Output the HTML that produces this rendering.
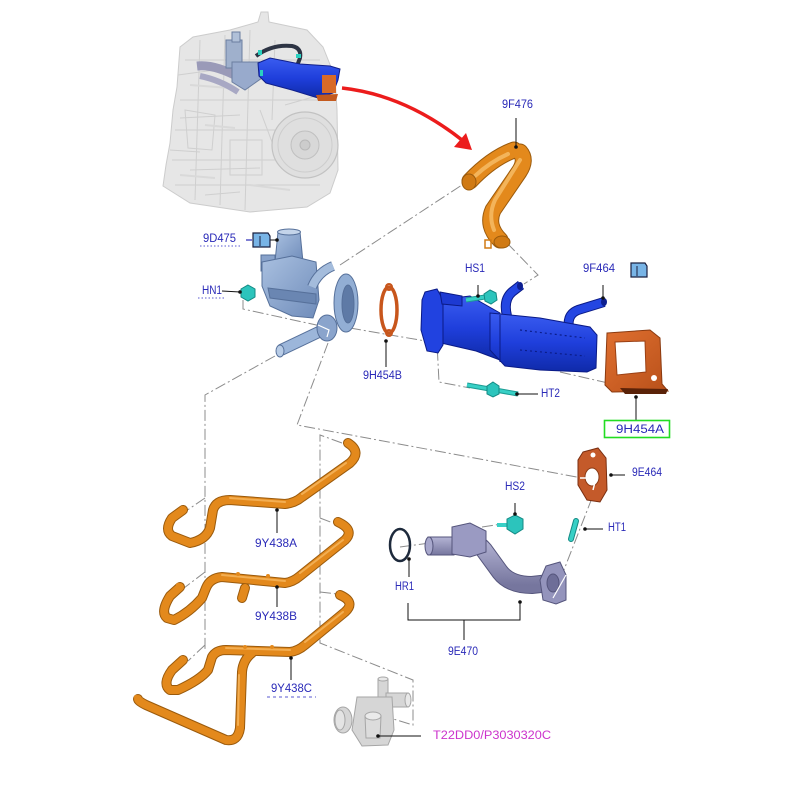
<!DOCTYPE html>
<html><head><meta charset="utf-8"><style>
html,body{margin:0;padding:0;background:#fff;}
svg{display:block}
text{font-family:"Liberation Sans",Arial,sans-serif;font-size:11.5px;}
</style></head><body>
<svg width="800" height="800" viewBox="0 0 800 800" xmlns="http://www.w3.org/2000/svg">
<defs>
<linearGradient id="blueG" x1="0" y1="0" x2="0" y2="1">
<stop offset="0" stop-color="#3a5cf0"/><stop offset="0.5" stop-color="#1f3fdc"/><stop offset="1" stop-color="#0f2aa8"/>
</linearGradient>
<linearGradient id="pumpG" x1="0" y1="0" x2="1" y2="1">
<stop offset="0" stop-color="#a9c0e0"/><stop offset="1" stop-color="#6f8cba"/>
</linearGradient>
<linearGradient id="pipeG" x1="0" y1="0" x2="0" y2="1">
<stop offset="0" stop-color="#b4b4d4"/><stop offset="1" stop-color="#76769e"/>
</linearGradient>
<linearGradient id="gasG" x1="0" y1="0" x2="1" y2="1">
<stop offset="0" stop-color="#e07030"/><stop offset="1" stop-color="#b8501a"/>
</linearGradient>
</defs>

<!-- ================= ENGINE ================= -->
<g>
<path d="M180,47 L193,37 L230,30 L258,22 L261,12 L268,12 L269,22 L307,30 L323,47 L335,77 L337,110 L338,170 L330,193 L307,207 L250,212 L190,203 L163,186 L166,165 L170,143 L173,110 L177,87 Z" fill="#e6e6e6" stroke="#cccccc"/>
<g stroke="#cfcfcf" fill="none" stroke-width="1">
<path d="M185,60 L320,60 M180,100 L330,100 M175,130 L290,130 M172,160 L280,160 M175,185 L320,185"/>
<path d="M200,40 L195,200 M225,35 L220,205 M250,30 L245,210 M275,40 L272,120"/>
<path d="M185,110 L215,115 L212,150 L188,148 Z M230,140 L262,140 L262,175 L230,175 Z"/>
<path d="M178,75 L215,70 M180,118 L240,115 M190,170 L260,168 M205,195 L240,192 M260,110 L275,150 M285,105 L320,95 M170,150 L200,152"/>
</g>
<g stroke="#d9d9d9" fill="none" stroke-width="2">
<path d="M190,85 L230,88 M205,125 L235,128 M180,175 L215,178 M250,185 L290,190"/>
</g>
<circle cx="305" cy="145" r="33" fill="#dfdfdf" stroke="#c2c2c2" stroke-width="1.2"/>
<circle cx="305" cy="145" r="27" fill="none" stroke="#cdcdcd"/>
<circle cx="305" cy="145" r="14" fill="#d8d8d8" stroke="#c0c0c0"/>
<circle cx="305" cy="145" r="5" fill="#cccccc" stroke="#b8b8b8"/>
<!-- grey valve & pipe -->
<path d="M197,66 Q215,64 240,78" stroke="#9a9ab8" stroke-width="9" fill="none"/>
<path d="M200,76 Q220,80 238,92" stroke="#a8a8c4" stroke-width="6" fill="none"/>
<rect x="226" y="40" width="16" height="28" fill="#9fb0cc" stroke="#6b7ea0"/>
<rect x="232" y="32" width="8" height="10" fill="#b0c0d8" stroke="#6b7ea0"/>
<path d="M232,62 L262,62 L262,78 L245,90 L232,82 Z" fill="#98aacc" stroke="#6b7ea0"/>
<!-- dark pipe -->
<path d="M256,56 Q272,44 292,46 Q302,48 300,58 L297,66" stroke="#2d3444" stroke-width="4" fill="none"/>
<rect x="258" y="50" width="4" height="5" fill="#2ad0c0"/>
<rect x="296" y="54" width="5" height="4" fill="#2ad0c0"/>
<!-- blue cooler in engine -->
<path d="M258,63 L270,58 L300,64 L330,66 L340,69 L338,80 L333,93 L318,98 L292,90 L266,83 L259,76 Z" fill="url(#blueG)" stroke="#101f8a"/>
<rect x="322" y="75" width="14" height="18" fill="#d86a28"/>
<path d="M316,95 L338,94 L336,101 L318,101 Z" fill="#c45a1e"/>
<rect x="260" y="70" width="3" height="6" fill="#2ad0c0"/>
</g>

<!-- red arrow -->
<path d="M342,88 Q405,95 462,140" stroke="#ec1c1c" stroke-width="3.5" fill="none"/>
<polygon points="472,150 454,147 466,133" fill="#ec1c1c"/>

<!-- ================= DASH-DOT LINES ================= -->
<g stroke="#8c8c8c" stroke-width="1" fill="none" stroke-dasharray="11,3,2,3">
<path d="M340,265 L468,181"/>
<path d="M507,243 L538,275 L524,284"/>
<path d="M243,300 L243,309 L330,328"/>
<path d="M350,328 L437,343 L439,382 L470,388"/>
<path d="M560,372 L608,383"/>
<path d="M275,356 L205,395 L205,650"/>
<path d="M205,498 L186,511 M205,572 L184,588 M205,645 L188,661"/>
<path d="M328,343 L297,425 L582,478"/>
<path d="M342,443 L320,435 L320,643 L413,680 L413,725 L390,718"/>
<path d="M320,518 L333,523 M320,592 L337,594"/>
<path d="M400,547 L430,543"/>
<path d="M482,527 L502,524"/>
<path d="M592,498 L553,598"/>
</g>

<!-- ================= 9F476 pipe ================= -->
<g fill="none" stroke-linecap="round">
<path d="M470,181 Q492,158 514,150" stroke="#9a5a0c" stroke-width="17"/>
<path d="M520,152 Q527,160 519,172 L493,210 Q486,226 500,240" stroke="#9a5a0c" stroke-width="17"/>
<path d="M470,181 Q492,158 514,150" stroke="#e3891c" stroke-width="15"/>
<path d="M520,152 Q527,160 519,172 L493,210 Q486,226 500,240" stroke="#e3891c" stroke-width="15"/>
<path d="M520,160 L495,200 Q488,215 494,230" stroke="#f3b45a" stroke-width="4"/>
<path d="M475,176 Q490,162 508,154" stroke="#f3b45a" stroke-width="4"/>
</g>
<ellipse cx="469" cy="182" rx="7" ry="8" fill="#d07a14" stroke="#9a5a0c"/>
<ellipse cx="502" cy="242" rx="8" ry="6" fill="#d07a14" stroke="#9a5a0c"/>
<path d="M485,240 L491,240 L491,248 L485,248 Z" fill="none" stroke="#d07a14" stroke-width="1.5"/>

<!-- ================= PUMP / EGR VALVE ================= -->
<g stroke="#56709a" stroke-width="1">
<path d="M275,262 L278,232 L300,232 L303,262 Z" fill="url(#pumpG)"/>
<ellipse cx="289" cy="232" rx="11.5" ry="3" fill="#c4d4ea"/>
<rect x="261" y="255" width="14" height="16" fill="#88a2ca"/>
<path d="M262,262 L292,256 L316,262 L319,300 L313,318 L292,316 L270,306 L262,286 Z" fill="url(#pumpG)"/>
<path d="M268,288 L316,294 L316,304 L270,298 Z" fill="#6a86b2"/>
<path d="M312,287 Q318,272 333,266" stroke="#56709a" stroke-width="10" fill="none"/>
<path d="M312,287 Q318,272 333,266" stroke="#a4bcdc" stroke-width="8" fill="none" stroke-linecap="butt"/>
<path d="M323,330 L281,350" stroke="#56709a" stroke-width="12" fill="none"/>
<path d="M323,330 L281,350" stroke="#9cb6da" stroke-width="10" fill="none"/>
<ellipse cx="280" cy="351" rx="4" ry="6" fill="#b8cce6"/>
<ellipse cx="327" cy="328" rx="10" ry="13" fill="#8aa4cc"/>
<ellipse cx="346" cy="303" rx="12" ry="29" fill="#92aed4"/>
<ellipse cx="348" cy="304" rx="6" ry="19" fill="#5e7aa6"/>
</g>
<path d="M318,325 L329,330 L327,337" stroke="#fff" stroke-width="1.2" fill="none"/>

<!-- 9H454B gasket -->
<ellipse cx="389" cy="310" rx="8" ry="23" fill="none" stroke="#c8561c" stroke-width="3.5"/>
<circle cx="389" cy="287" r="3" fill="none" stroke="#c8561c" stroke-width="2"/>
<circle cx="389" cy="333" r="3" fill="none" stroke="#c8561c" stroke-width="2"/>

<!-- HN1 nut -->
<polygon points="248,285 255,289 255,297 248,301 241,297 241,289" fill="#2cc4bc" stroke="#148a84"/>

<!-- ================= COOLER ================= -->
<g stroke="#0a1a86" stroke-width="1">
<path d="M507,316 Q503,300 512,292 L521,285" stroke="#0a1a86" stroke-width="10" fill="none"/>
<path d="M507,316 Q503,300 512,292 L521,285" stroke="#2446e2" stroke-width="8" fill="none"/>
<path d="M570,332 Q565,315 578,310 L604,302" stroke="#0a1a86" stroke-width="10" fill="none"/>
<path d="M570,332 Q565,315 578,310 L604,302" stroke="#2446e2" stroke-width="8" fill="none"/>
<path d="M437,300 L470,296 L500,313 L500,360 L476,351 L441,343 Z" fill="url(#blueG)"/>
<path d="M490,313 L540,318 L590,327 L597,335 L596,368 L587,372 L540,370 L505,366 L490,350 Z" fill="url(#blueG)"/>
<path d="M500,315 L500,362" stroke="#0a1a86"/>
<path d="M425,292 L437,289 L443,300 L443,345 L438,353 L427,351 L421,330 L422,300 Z" fill="#2142e0"/>
<path d="M440,292 L462,296 L462,306 L442,304 Z" fill="#1d3ad2"/>
</g>
<g stroke="#0b1d8a" stroke-dasharray="2,3" stroke-width="1.2">
<path d="M520,330 L585,338 M520,350 L585,356"/>
</g>
<ellipse cx="520" cy="286" rx="3" ry="4" fill="#0d1f90"/>
<ellipse cx="604" cy="302" rx="3" ry="4" fill="#0d1f90"/>

<!-- HS1 bolt -->
<path d="M466,300 L485,297" stroke="#1c9c94" stroke-width="5"/>
<path d="M466,300 L485,297" stroke="#38d0c6" stroke-width="3"/>
<polygon points="490,290 496,293 497,300 491,304 485,301 484,294" fill="#2cc4bc" stroke="#148a84"/>
<!-- HT2 bolt -->
<path d="M467,385 L518,394" stroke="#1c9c94" stroke-width="5"/>
<path d="M467,385 L518,394" stroke="#38d0c6" stroke-width="3"/>
<polygon points="493,382 499,386 499,394 493,397 487,394 487,386" fill="#2cc4bc" stroke="#148a84"/>

<!-- 9H454A gasket -->
<path d="M607,333 L650,330 L660,338 L662,384 L668,391 L612,392 L605,385 Z" fill="url(#gasG)" stroke="#8a3a10"/>
<path d="M615,342 L645,341 L646,372 L617,375 Z" fill="#fff" stroke="#9a4014"/>
<circle cx="654" cy="378" r="3" fill="#fff"/>
<path d="M620,388 L668,389 L666,394 L625,394 Z" fill="#5a2208"/>

<!-- ================= LOWER HOSES ================= -->
<g fill="none" stroke-linecap="round" stroke-linejoin="round">
<g stroke="#9a5a0c" stroke-width="10">
<path d="M183,510 L172,518 Q164,530 172,536 L190,543 Q206,540 210,528 L213,510 Q216,500 230,500 L285,504 Q295,503 302,497 L350,463 Q362,452 348,443"/>
<path d="M180,587 L170,596 Q160,612 167,618 L174,620 Q190,612 202,598 L206,588 Q210,578 222,577 L285,583 Q293,582 300,576 L345,540 Q355,530 338,522"/>
<path d="M245,588 L242,598"/>
<path d="M183,660 L172,670 Q162,684 170,690 L178,690 Q200,680 208,670 L212,657 Q216,650 226,650 L290,652 Q298,651 305,645 L345,612 Q356,602 340,595"/>
<path d="M252,653 Q243,660 242,672 L240,728 Q238,742 226,740 L146,705 Q138,701 138,699"/>
</g>
<g stroke="#e3891c" stroke-width="8">
<path d="M183,510 L172,518 Q164,530 172,536 L190,543 Q206,540 210,528 L213,510 Q216,500 230,500 L285,504 Q295,503 302,497 L350,463 Q362,452 348,443"/>
<path d="M180,587 L170,596 Q160,612 167,618 L174,620 Q190,612 202,598 L206,588 Q210,578 222,577 L285,583 Q293,582 300,576 L345,540 Q355,530 338,522"/>
<path d="M245,588 L242,598"/>
<path d="M183,660 L172,670 Q162,684 170,690 L178,690 Q200,680 208,670 L212,657 Q216,650 226,650 L290,652 Q298,651 305,645 L345,612 Q356,602 340,595"/>
<path d="M252,653 Q243,660 242,672 L240,728 Q238,742 226,740 L146,705 Q138,701 138,699"/>
</g>
<g stroke="#f6b860" stroke-width="2" opacity="0.8">
<path d="M230,498 L285,502 M302,494 L346,463"/>
<path d="M222,575 L285,581 M300,573 L343,540"/>
<path d="M226,648 L290,650 M305,642 L343,612 M239,675 L238,725"/>
</g>
</g>
<!-- small tabs -->
<g fill="#e3891c">
<circle cx="182" cy="508" r="2"/><circle cx="178" cy="585" r="2"/><circle cx="182" cy="658" r="2"/>
<circle cx="348" cy="441" r="2"/><circle cx="337" cy="520" r="2"/><circle cx="339" cy="593" r="2"/>
<circle cx="238" cy="574" r="2"/><circle cx="268" cy="576" r="2"/><circle cx="245" cy="647" r="2"/><circle cx="272" cy="647" r="2"/>
<circle cx="136" cy="697" r="2"/>
</g>

<!-- ================= 9E470 etc ================= -->
<ellipse cx="400" cy="545" rx="10" ry="16" fill="none" stroke="#1e2a3c" stroke-width="2.5"/>
<g stroke="#55557c" stroke-width="1">
<path d="M455,540 Q472,536 484,550 L500,572 Q510,585 532,585 L550,583" stroke="#55557c" stroke-width="18" fill="none"/>
<path d="M455,540 Q472,536 484,550 L500,572 Q510,585 532,585 L550,583" stroke="url(#pipeG)" stroke-width="16" fill="none"/>
<rect x="428" y="537" width="26" height="18" fill="url(#pipeG)"/>
<ellipse cx="429" cy="546" rx="4" ry="9" fill="#a8a8cc"/>
<path d="M452,527 L470,523 L486,531 L486,552 L470,557 L452,554 Z" fill="#9a9ac2"/>
<path d="M546,566 L560,562 L566,575 L566,600 L556,604 L543,600 L540,580 Z" fill="#9494bc"/>
<ellipse cx="553" cy="583" rx="6" ry="9" fill="#6e6e98"/>
</g>
<path d="M553,598 L566,575" stroke="#fff" stroke-width="1.2"/>

<!-- 9E464 gasket -->
<path d="M583,452 L598,448 L606,458 L607,490 L600,502 L587,500 L578,485 L578,460 Z" fill="#c45a2a" stroke="#7a2e10"/>
<circle cx="593" cy="455" r="2.5" fill="#fff"/>
<ellipse cx="592" cy="477" rx="7" ry="9" fill="#fff" stroke="#8a3a14"/>
<path d="M580,478 L596,478 L593,490" stroke="#fff" stroke-width="1.5" fill="none"/>

<!-- HS2 -->
<path d="M497,525 L508,525" stroke="#38d0c6" stroke-width="4"/>
<polygon points="515,515 523,519 523,529 515,534 507,529 507,519" fill="#2cc4bc" stroke="#148a84"/>
<!-- HT1 -->
<path d="M576,521 L571,539" stroke="#148a84" stroke-width="6" stroke-linecap="round"/>
<path d="M576,521 L571,539" stroke="#38d0c6" stroke-width="4" stroke-linecap="round"/>

<!-- thermostat -->
<g fill="#d6d6d6" stroke="#a6a6a6" stroke-width="1">
<rect x="378" y="679" width="10" height="20"/>
<ellipse cx="383" cy="679" rx="5" ry="2" fill="#e8e8e8"/>
<rect x="386" y="693" width="22" height="14"/>
<ellipse cx="408" cy="700" rx="3" ry="7" fill="#e8e8e8"/>
<path d="M357,697 L392,697 L394,730 L388,745 L362,746 L352,730 Z"/>
<ellipse cx="343" cy="720" rx="9" ry="13"/>
<ellipse cx="340" cy="720" rx="5" ry="10" fill="#e4e4e4"/>
<path d="M365,716 L381,716 L380,738 L366,738 Z" fill="#dcdcdc"/>
<ellipse cx="373" cy="716" rx="8" ry="4" fill="#eaeaea"/>
</g>

<!-- ================= LEADERS ================= -->
<g stroke="#111" stroke-width="1" fill="none">
<path d="M516,118 L516,147"/>
<path d="M270,240 L277,240"/>
<path d="M222,291 L240,292"/>
<path d="M478,285 L478,296"/>
<path d="M603,285 L603,298"/>
<path d="M386,341 L386,367"/>
<path d="M517,394 L538,394"/>
<path d="M636,397 L636,420"/>
<path d="M611,475 L625,475"/>
<path d="M515,503 L515,514"/>
<path d="M585,529 L603,529"/>
<path d="M409,559 L409,577"/>
<path d="M408,603 L408,620 L520,620 L520,602 M464,620 L464,640"/>
<path d="M277,510 L277,533"/>
<path d="M277,587 L277,607"/>
<path d="M291,658 L291,680"/>
<path d="M378,736 L421,736"/>
</g>
<g fill="#111">
<circle cx="516" cy="147" r="1.8"/><circle cx="277" cy="240" r="1.8"/><circle cx="240" cy="292" r="1.8"/>
<circle cx="478" cy="296" r="1.8"/><circle cx="603" cy="298" r="1.8"/><circle cx="386" cy="341" r="1.8"/>
<circle cx="517" cy="394" r="1.8"/><circle cx="636" cy="397" r="1.8"/><circle cx="611" cy="475" r="1.8"/>
<circle cx="515" cy="514" r="1.8"/><circle cx="585" cy="529" r="1.8"/><circle cx="409" cy="559" r="1.8"/>
<circle cx="520" cy="602" r="1.8"/><circle cx="277" cy="510" r="1.8"/><circle cx="277" cy="587" r="1.8"/>
<circle cx="291" cy="658" r="1.8"/><circle cx="378" cy="736" r="1.8"/>
</g>
<!-- blue dash near 9D475 and dotted underlines -->
<path d="M246,240 L252,240" stroke="#2a2ab8" stroke-width="1.2"/>
<path d="M200,246 L242,246" stroke="#5a5ad0" stroke-width="1" stroke-dasharray="1.5,2"/>
<path d="M198,298 L226,298" stroke="#5a5ad0" stroke-width="1" stroke-dasharray="1.5,2"/>
<path d="M267,697 L316,697" stroke="#5a5ad0" stroke-width="1" stroke-dasharray="3,3"/>

<!-- icons -->
<g>
<path d="M253,233 L268,233 L270,236 L270,247 L253,247 Z" fill="#78b4e6" stroke="#1a2040" stroke-width="1.2"/>
<path d="M260,236 L260,246" stroke="#1a2040" stroke-width="1"/>
<path d="M631,263 L645,263 L647,266 L647,277 L631,277 Z" fill="#78b4e6" stroke="#1a2040" stroke-width="1.2"/>
<path d="M637,266 L637,276" stroke="#1a2040" stroke-width="1"/>
</g>

<!-- green box -->
<rect x="604.5" y="420.5" width="65" height="17" fill="none" stroke="#22dd22" stroke-width="1.6"/>

<!-- ================= LABELS ================= -->
<g fill="#2a2ab8">
<text x="502" y="108" textLength="31" lengthAdjust="spacingAndGlyphs">9F476</text>
<text x="203" y="242" textLength="33" lengthAdjust="spacingAndGlyphs">9D475</text>
<text x="202" y="294" textLength="20" lengthAdjust="spacingAndGlyphs">HN1</text>
<text x="465" y="272" textLength="20" lengthAdjust="spacingAndGlyphs">HS1</text>
<text x="583" y="272" textLength="32" lengthAdjust="spacingAndGlyphs">9F464</text>
<text x="363" y="379" textLength="39" lengthAdjust="spacingAndGlyphs">9H454B</text>
<text x="541" y="397" textLength="19" lengthAdjust="spacingAndGlyphs">HT2</text>
<text x="616" y="433" textLength="48" lengthAdjust="spacingAndGlyphs">9H454A</text>
<text x="632" y="476" textLength="30" lengthAdjust="spacingAndGlyphs">9E464</text>
<text x="505" y="490" textLength="20" lengthAdjust="spacingAndGlyphs">HS2</text>
<text x="608" y="531" textLength="18" lengthAdjust="spacingAndGlyphs">HT1</text>
<text x="395" y="590" textLength="19" lengthAdjust="spacingAndGlyphs">HR1</text>
<text x="448" y="655" textLength="30" lengthAdjust="spacingAndGlyphs">9E470</text>
<text x="255" y="547" textLength="42" lengthAdjust="spacingAndGlyphs">9Y438A</text>
<text x="255" y="620" textLength="42" lengthAdjust="spacingAndGlyphs">9Y438B</text>
<text x="271" y="692" textLength="41" lengthAdjust="spacingAndGlyphs">9Y438C</text>
</g>
<text x="433" y="739" fill="#cc33cc" textLength="118" lengthAdjust="spacingAndGlyphs">T22DD0/P3030320C</text>
</svg>
</body></html>
